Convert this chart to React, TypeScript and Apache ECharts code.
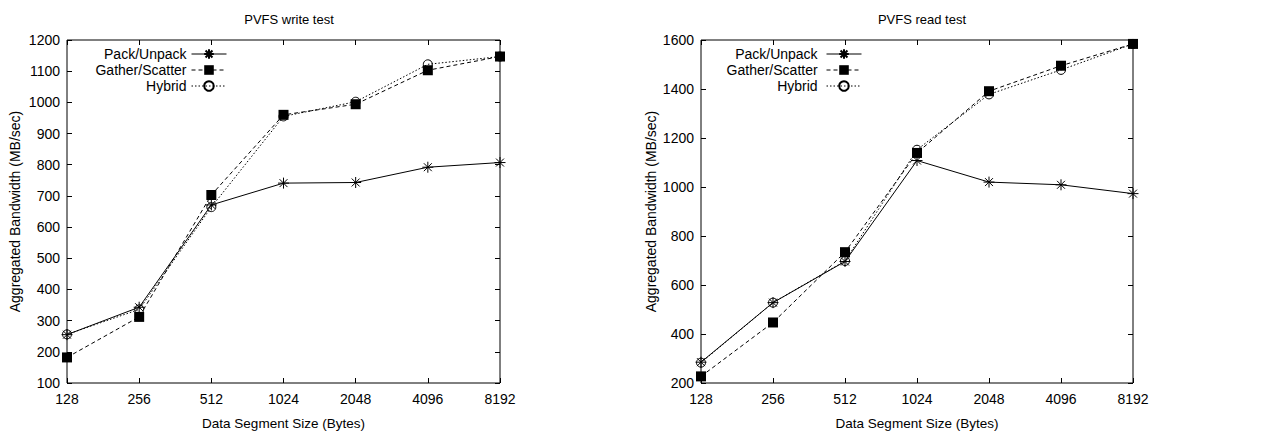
import React, { useEffect, useRef } from "react";
import * as echarts from "echarts";

const categories = ["128", "256", "512", "1024", "2048", "4096", "8192"];
const seriesNames = ["Pack/Unpack", "Gather/Scatter", "Hybrid"];

const writePack = [255, 343, 671, 741, 743, 792, 807];
const writeGather = [182, 312, 703, 960, 994, 1103, 1147];
const writeHybrid = [256, 336, 664, 955, 1002, 1122, 1147];

const readPack = [285, 528, 696, 1108, 1020, 1009, 973];
const readGather = [227, 447, 734, 1139, 1391, 1495, 1584];
const readHybrid = [283, 528, 698, 1152, 1378, 1478, 1584];

const titles = ["PVFS write test", "PVFS read test"];
const xName = "Data Segment Size (Bytes)";
const yName = "Aggregated Bandwidth (MB/sec)";

const FONT = "Liberation Sans, Arial, Helvetica, sans-serif";
const STAR = "path://M0,-5L0,5M-5,0L5,0M-3.6,-3.6L3.6,3.6M-3.6,3.6L3.6,-3.6";

export default function App() {
  const ref = useRef<HTMLDivElement>(null);
  useEffect(() => {
    document.body.style.margin = "0";
    if (!ref.current) return;
    const chart = echarts.init(ref.current, null, { renderer: "svg" });

    const grids = [
      { left: 67, right: 763, top: 40, bottom: 49 },
      { left: 701, right: 130, top: 40, bottom: 49 },
    ];
    const yRanges = [
      { min: 100, max: 1200, interval: 100 },
      { min: 200, max: 1600, interval: 200 },
    ];
    const data = [
      [writePack, writeGather, writeHybrid],
      [readPack, readGather, readHybrid],
    ];

    const xAxis: any[] = [];
    const yAxis: any[] = [];
    const series: any[] = [];
    const legend: any[] = [];
    const title: any[] = [];
    const legendRight = [1036, 401];

    grids.forEach((g, gi) => {
      const tick = { show: true, inside: true, length: 5, lineStyle: { color: "#000", width: 1 } };
      xAxis.push({
        type: "category",
        gridIndex: gi,
        data: categories,
        boundaryGap: false,
        position: "bottom",
        axisLine: { show: false },
        axisTick: tick,
        axisLabel: { color: "#000", fontSize: 14, fontFamily: FONT, margin: 9 },
        splitLine: { show: false },
        name: xName,
        nameLocation: "middle",
        nameGap: 33,
        nameTextStyle: { color: "#000", fontSize: 13.5, fontFamily: FONT },
      });
      xAxis.push({
        type: "category",
        gridIndex: gi,
        data: categories,
        boundaryGap: false,
        position: "top",
        axisLine: { show: false },
        axisTick: tick,
        axisLabel: { show: false },
        splitLine: { show: false },
      });
      yAxis.push({
        type: "value",
        gridIndex: gi,
        position: "left",
        ...yRanges[gi],
        axisLine: { show: false },
        axisTick: tick,
        axisLabel: {
          color: "#000",
          fontSize: 14,
          fontFamily: FONT,
          margin: 7,
          formatter: (v: number) => String(v),
        },
        splitLine: { show: false },
        name: yName,
        nameLocation: "middle",
        nameGap: gi === 0 ? 45 : 43,
        nameTextStyle: { color: "#000", fontSize: 14, fontFamily: FONT },
      });
      yAxis.push({
        type: "value",
        gridIndex: gi,
        position: "right",
        ...yRanges[gi],
        axisLine: { show: false },
        axisTick: tick,
        axisLabel: { show: false },
        splitLine: { show: false },
      });
      title.push({
        text: titles[gi],
        left: gi === 0 ? 284 : 917,
        textAlign: "center",
        top: 8,
        textStyle: { color: "#000", fontSize: 13, fontWeight: "normal", fontFamily: FONT },
      });

      const styles = [
        { type: "solid", symbol: STAR, size: 11, itemStyle: { color: "rgba(0,0,0,0)", borderColor: "#000", borderWidth: 1 } },
        { type: [4, 3], symbol: "rect", size: 10, itemStyle: { color: "#000", borderColor: "#000", borderWidth: 0 } },
        { type: [1.5, 2], symbol: "circle", size: 9, itemStyle: { color: "rgba(0,0,0,0)", borderColor: "#000", borderWidth: 1 } },
      ];
      seriesNames.forEach((nm, si) => {
        const st = styles[si];
        const sname = nm + (gi === 0 ? "" : " ");
        series.push({
          type: "line",
          name: sname,
          xAxisIndex: gi * 2,
          yAxisIndex: gi * 2,
          data: data[gi][si],
          clip: false,
          symbol: st.symbol,
          symbolSize: st.size,
          showAllSymbol: true,
          lineStyle: { color: "#000", width: 1, type: st.type },
          itemStyle: st.itemStyle,
          emphasis: { disabled: true },
          z: 2 + si,
        });
        legend.push({
          data: [sname],
          right: legendRight[gi],
          top: 47 + si * 16,
          align: "right",
          orient: "vertical",
          padding: 0,
          itemWidth: 35,
          itemHeight: 12,
          selectedMode: false,
          lineStyle: { width: 1 },
          textStyle: { color: "#000", fontSize: 14, fontFamily: FONT },
        });
      });
    });

    chart.setOption({
      animation: false,
      backgroundColor: "#fff",
      title,
      legend,
      grid: grids.map((g) => ({ ...g, show: true, borderColor: "#000", borderWidth: 1, backgroundColor: "transparent" })),
      xAxis,
      yAxis,
      series,
    });
    return () => chart.dispose();
  }, []);
  return <div ref={ref} style={{ width: 1263, height: 435 }} />;
}
